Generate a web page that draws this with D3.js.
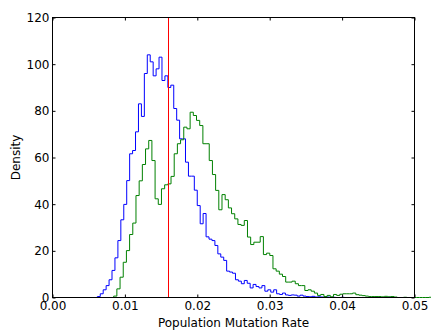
<!DOCTYPE html>
<html>
<head>
<meta charset="utf-8">
<script src="https://cdn.jsdelivr.net/npm/d3@7"></script>
<style>
  body { margin: 0; background: #fff; }
  svg { display: block; font-family: "DejaVu Sans", sans-serif; }
</style>
</head>
<body>
<div id="chart"></div>
<script>
// histogram bins (density)
var blueStart = 0.00619,
    blueWidth = 0.000406;
var blueDensity = [0.4, 1.6, 3.3, 5.1, 7.6, 11.6, 17, 24.4, 33.3, 39.9,
    50.1, 61.6, 63, 71, 83, 77.6, 96, 104, 101, 95,
    98, 103, 93, 95, 90, 91, 81, 76, 68, 68,
    58, 52, 52, 46, 39.4, 31.6, 36, 26, 25, 24.4,
    22.3, 18.7, 17.3, 15.9, 11.3, 10.9, 10.4, 7.6, 7, 5.9,
    7.3, 6.1, 4.1, 5.6, 4.7, 4.1, 5.1, 2.7, 3.3, 2.3,
    3.3, 1.6, 1.3, 1.9, 1.1, 0.9, 1.1, 1.0, 0.6, 1.0,
    0.6, 0.4, 0.3, 0.5, 0.2, 0.3, 0.2, 0.1, 0.2, 0,
    0.1, 0, 0, 0.1, 0, 0, 0, 0, 0, 0,
    0, 0, 0, 0, 0, 0, 0, 0, 0, 0.1];

var greenStart = 0.00845,
    greenWidth = 0.00044;
var greenDensity = [0.6, 3.7, 8.7, 15.1, 20.1, 27, 31.9, 43.7, 50, 57,
    63.7, 67.3, 58.7, 42.3, 39.9, 46.6, 48.3, 48.7, 51.9, 61.6,
    65.9, 67.6, 73, 72.3, 79.4, 78, 75.9, 73.7, 65.9, 65.9,
    58.7, 52.7, 45.9, 37.6, 44.1, 41.9, 38.4, 35.9, 33.7, 31.3,
    30.9, 33, 25.9, 22.7, 23.7, 23.7, 26.1, 18.4, 19, 18,
    12.3, 11.3, 10, 9, 6.6, 6.6, 7, 5.9, 5.1, 5.1,
    3, 3.3, 2.7, 1.9, 0.9, 1.3, 0.4, 0.9, 0.3, 1.3,
    0.9, 1.4, 1.6, 1.6, 1.6, 1.9, 1.2, 1.0, 0.8, 0.6,
    0.4, 0.4, 0.4, 0.4, 0.3, 0.5, 0.3, 0.4, 0.2, 0,
    0, 0.1, 0, 0, 0, 0, 0, 0, 0, 0.1];

var markerX = 0.016;

var xTicks = [0, 0.01, 0.02, 0.03, 0.04, 0.05],
    yTicks = [0, 20, 40, 60, 80, 100, 120];

var xLabel = "Population Mutation Rate",
    yLabel = "Density";

var w = 431,
    h = 330;

var x = d3.scaleLinear().domain([0, 0.05]).range([52.5, 414.5]);
var y = d3.scaleLinear().domain([0, 120]).range([297.5, 17.5]);

var svg = d3.select("#chart")
    .append("svg")
    .attr("width", w)
    .attr("height", h);

// turn bins into outline points for a step line
function stepPoints(start, width, values) {
    var pts = [[start, 0]];
    values.forEach(function(v, i) {
        pts.push([start + i * width, v]);
    });
    pts.push([start + values.length * width, values[values.length - 1]]);
    pts.push([start + values.length * width, 0]);
    return pts;
}

var line = d3.line()
    .x(function(d) { return x(d[0]); })
    .y(function(d) { return y(d[1]); })
    .curve(d3.curveStepAfter);

svg.append("path")
    .attr("d", line(stepPoints(blueStart, blueWidth, blueDensity)))
    .attr("fill", "none")
    .attr("stroke", "#0000ff")
    .attr("stroke-width", 1);

svg.append("path")
    .attr("d", line(stepPoints(greenStart, greenWidth, greenDensity)))
    .attr("fill", "none")
    .attr("stroke", "#008000")
    .attr("stroke-width", 1);

svg.append("line")
    .attr("x1", Math.round(x(markerX)) + 0.5)
    .attr("x2", Math.round(x(markerX)) + 0.5)
    .attr("y1", y(120))
    .attr("y2", y(0))
    .attr("stroke", "#ff0000")
    .attr("stroke-width", 1);

// axes, ticks pointing inward on all four sides
var fmtX = d3.format(".2f");

var bottom = svg.append("g")
    .attr("transform", "translate(0," + y(0) + ")")
    .call(d3.axisBottom(x).tickValues(xTicks).tickFormat(fmtX)
        .tickSizeInner(-3).tickSizeOuter(0).tickPadding(4));

var left = svg.append("g")
    .attr("transform", "translate(" + x(0) + ",0)")
    .call(d3.axisLeft(y).tickValues(yTicks)
        .tickSizeInner(-3).tickSizeOuter(0).tickPadding(3));

var top = svg.append("g")
    .attr("transform", "translate(0," + y(120) + ")")
    .call(d3.axisTop(x).tickValues(xTicks).tickFormat("")
        .tickSizeInner(-3).tickSizeOuter(0));

var right = svg.append("g")
    .attr("transform", "translate(" + x(0.05) + ",0)")
    .call(d3.axisRight(y).tickValues(yTicks).tickFormat("")
        .tickSizeInner(-3).tickSizeOuter(0));

svg.selectAll(".domain").remove();
svg.selectAll(".tick line").attr("stroke", "#000");
svg.selectAll(".tick text")
    .attr("fill", "#000")
    .style("font-size", "12px")
    .style("font-family", "DejaVu Sans, sans-serif");

// frame
svg.append("rect")
    .attr("x", x(0))
    .attr("y", y(120))
    .attr("width", x(0.05) - x(0))
    .attr("height", y(0) - y(120))
    .attr("fill", "none")
    .attr("stroke", "#000")
    .attr("stroke-width", 1);

svg.append("text")
    .attr("x", (x(0) + x(0.05)) / 2)
    .attr("y", 327)
    .attr("text-anchor", "middle")
    .style("font-size", "12px")
    .text(xLabel);

svg.append("text")
    .attr("transform", "translate(20," + (y(0) + y(120)) / 2 + ") rotate(-90)")
    .attr("text-anchor", "middle")
    .style("font-size", "12px")
    .text(yLabel);
</script>
</body>
</html>
